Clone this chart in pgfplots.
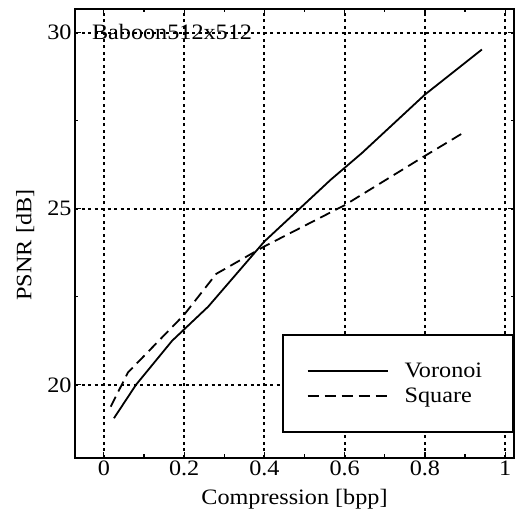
\documentclass[border=0pt]{standalone}
\usepackage{fontspec}
\setmainfont{Liberation Serif}[FakeStretch=1.1]
\usepackage{pgfplots}
\pgfplotsset{compat=1.18}
\newcommand\f{\fontsize{22bp}{26bp}\selectfont}

\begin{document}
\begin{tikzpicture}
\begin{axis}[%
scale only axis,
width=439bp,
height=448.7bp,
xmin=-0.072, xmax=1.022,
ymin=17.93, ymax=30.67,
xtick={0,0.2,0.4,0.6,0.8,1},
xticklabels={0,0.2,0.4,0.6,0.8,1},
ytick={20,25,30},
minor x tick num=1,
minor y tick num=1,
tick align=inside,
major tick length=6bp,
minor tick length=3.5bp,
every tick/.style={black, line width=1.2bp},
axis line style={line width=1.7bp},
grid=major,
major grid style={black, line width=2bp, dash pattern=on 3bp off 3.5bp},
/pgf/number format/assume math mode=true,
ticklabel style={font=\f},
label style={font=\f},
xlabel={Compression [bpp]},
ylabel={PSNR [dB]},
xlabel style={yshift=-6bp},
ylabel style={at={(ticklabel cs:0.474)}, yshift=6bp},
legend cell align=left,
legend style={at={(1,0.0557)}, anchor=south east, draw=black,
  line width=1.7bp, font=\f, inner xsep=24bp, inner ysep=26bp,
  row sep=5bp, column sep=14bp},
legend image code/.code={\draw[#1] (0bp,0bp) -- (80bp,0bp);},
]
% Voronoi
\addplot[black, line width=1.8bp] coordinates {
(0.025,19.05) (0.08,20.0) (0.17,21.25) (0.26,22.22) (0.4,24.07)
(0.565,25.82) (0.643,26.58) (0.8,28.24) (0.942,29.52)
};
\addlegendentry{Voronoi\hspace*{5bp}}
% Square
\addplot[black, line width=1.8bp, dash pattern=on 11bp off 6bp] coordinates {
(0.017,19.38) (0.06,20.35) (0.2,21.99) (0.28,23.15) (0.4,23.93)
(0.6,25.1) (0.8,26.5) (0.895,27.15)
};
\addlegendentry{Square}
\node[anchor=base west, inner sep=0, font=\f] at (axis cs:-0.030,29.8) {Baboon512x512};
\end{axis}
\pgfresetboundingbox
\path[use as bounding box] (-75bp,-54.3bp) rectangle (440bp,457.7bp);
\end{tikzpicture}
\end{document}
